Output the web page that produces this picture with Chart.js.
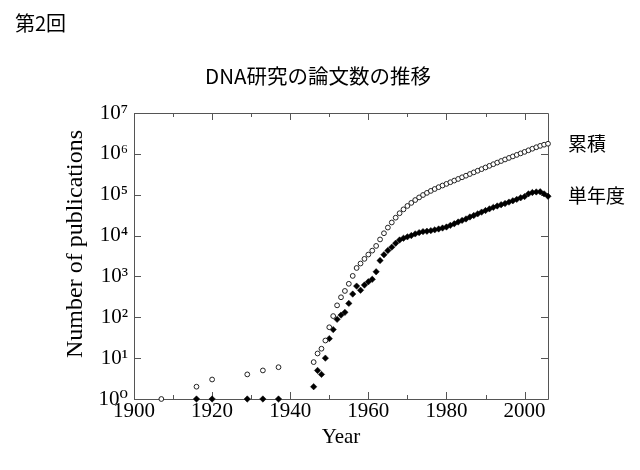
<!DOCTYPE html>
<html>
<head>
<meta charset="utf-8">
<script src="https://cdn.jsdelivr.net/npm/chart.js@4.4.0/dist/chart.umd.min.js"></script>
<style>
html,body{margin:0;padding:0;background:#fff;}
#wrap{width:640px;height:470px;}
</style>
</head>
<body>
<div id="wrap"><canvas id="c" width="640" height="470"></canvas></div>
<script>
// ---- data ----
const pageTitle = '第2回';
const chartTitle = 'DNA研究の論文数の推移';
const xAxisTitle = 'Year';
const yAxisTitle = 'Number of publications';
const seriesNames = ['累積', '単年度'];

const cumulativeYears = [1907,1916,1920,1929,1933,1937,
  1946,1947,1948,1949,1950,1951,1952,1953,1954,1955,1956,1957,1958,1959,
  1960,1961,1962,1963,1964,1965,1966,1967,1968,1969,
  1970,1971,1972,1973,1974,1975,1976,1977,1978,1979,
  1980,1981,1982,1983,1984,1985,1986,1987,1988,1989,
  1990,1991,1992,1993,1994,1995,1996,1997,1998,1999,
  2000,2001,2002,2003,2004,2005,2006];
const cumulativeCounts = [1,2,3,4,5,6,
  8,13,17,27,57,107,196,309,441,660,1030,1610,2070,2690,
  3430,4280,5580,8030,11400,15700,20900,27400,35200,43800,
  53100,63100,74100,85900,98400,111000,124000,138000,153000,168000,
  184000,202000,222000,243000,267000,292000,321000,352000,386000,423000,
  464000,509000,558000,611000,668000,729000,795000,866000,943000,1027000,
  1117000,1222000,1335000,1452000,1570000,1675000,1767000];

const annualYears = [1916,1920,1929,1933,1937,
  1946,1947,1948,1949,1950,1951,1952,1953,1954,1955,1956,1957,1958,1959,
  1960,1961,1962,1963,1964,1965,1966,1967,1968,1969,
  1970,1971,1972,1973,1974,1975,1976,1977,1978,1979,
  1980,1981,1982,1983,1984,1985,1986,1987,1988,1989,
  1990,1991,1992,1993,1994,1995,1996,1997,1998,1999,
  2000,2001,2002,2003,2004,2005,2006];
const annualCounts = [1,1,1,1,1,
  2,5,4,10,30,50,89,113,132,219,370,580,460,615,
  740,850,1300,2450,3400,4300,5200,6500,7800,8600,
  9300,10000,11000,11800,12500,12800,13200,13800,14500,15300,
  16200,17800,19500,21500,23500,25500,28500,31000,34000,37500,
  41000,45000,49000,53000,57000,61000,66000,71000,77000,84000,
  90000,105000,113000,117000,118000,105000,92000];

const xTickYears = [1900,1920,1940,1960,1980,2000];
const xMinorTickYears = [1910,1930,1950,1970,1990];
const yTickValues = [1,10,100,1000,10000,100000,1000000,10000000];
const xRange = [1900, 2006];
const yRange = [1, 10000000];

// ---- helpers ----
const SERIF = "'Liberation Serif','Times New Roman','DejaVu Serif',serif";
const SANS = "'Noto Sans CJK JP','Noto Sans',sans-serif";
const SUP = {'0':'⁰','1':'¹','2':'²','3':'³','4':'⁴','5':'⁵','6':'⁶','7':'⁷','8':'⁸','9':'⁹','-':'⁻'};
function powLabel(v){
  const e = String(Math.round(Math.log10(v)));
  return '10' + e.split('').map(c => SUP[c]).join('');
}
function toPoints(xs, ys){ return xs.map((x,i) => ({x: x, y: ys[i]})); }

const frameColor = '#555';

const framePlugin = {
  id: 'frameTicks',
  beforeDatasetsDraw(chart){
    const {ctx, chartArea: a, scales} = chart;
    const xs = scales.x, ys = scales.y;
    ctx.save();
    ctx.strokeStyle = frameColor;
    ctx.lineWidth = 1;
    ctx.beginPath();
    ctx.rect(Math.round(a.left)+0.5, Math.round(a.top)+0.5,
             Math.round(a.right-a.left), Math.round(a.bottom-a.top));
    ctx.stroke();
    ctx.beginPath();
    const tick = (vals, len) => {
      vals.forEach(v => {
        const px = Math.round(xs.getPixelForValue(v)) + 0.5;
        ctx.moveTo(px, a.bottom); ctx.lineTo(px, a.bottom - len);
        ctx.moveTo(px, a.top); ctx.lineTo(px, a.top + len);
      });
    };
    tick(xTickYears, 7);
    tick(xMinorTickYears, 4);
    yTickValues.forEach(v => {
      const py = Math.round(ys.getPixelForValue(v)) + 0.5;
      ctx.moveTo(a.left, py); ctx.lineTo(a.left + 7, py);
      ctx.moveTo(a.right, py); ctx.lineTo(a.right - 7, py);
    });
    ctx.stroke();
    ctx.restore();
  }
};

const endLabelPlugin = {
  id: 'endLabels',
  afterDatasetsDraw(chart){
    const {ctx, chartArea: a} = chart;
    ctx.save();
    ctx.font = '19px ' + SANS;
    ctx.fillStyle = '#000';
    ctx.textAlign = 'left';
    ctx.textBaseline = 'middle';
    chart.data.datasets.forEach((ds, i) => {
      const meta = chart.getDatasetMeta(i);
      const last = meta.data[meta.data.length - 1];
      if (last) ctx.fillText(ds.label, a.right + 20, last.y);
    });
    ctx.restore();
  }
};

Chart.defaults.color = '#000';
Chart.defaults.font.family = SERIF;

new Chart(document.getElementById('c'), {
  type: 'scatter',
  data: {
    datasets: [
      {
        label: seriesNames[0],
        data: toPoints(cumulativeYears, cumulativeCounts),
        pointStyle: 'circle',
        pointRadius: 2.4,
        pointBorderWidth: 1,
        pointBorderColor: '#222',
        pointBackgroundColor: '#fff',
        clip: false
      },
      {
        label: seriesNames[1],
        data: toPoints(annualYears, annualCounts),
        pointStyle: 'rectRot',
        pointRadius: 3.2,
        pointBorderWidth: 0.5,
        pointBorderColor: '#000',
        pointBackgroundColor: '#000',
        clip: false
      }
    ]
  },
  options: {
    responsive: false,
    devicePixelRatio: 1,
    animation: false,
    events: [],
    layout: { padding: { left: 15, right: 19, top: 0, bottom: 0 } },
    plugins: {
      legend: { display: false },
      tooltip: { enabled: false },
      title: {
        display: true, text: pageTitle, align: 'start', color: '#000',
        font: { family: SANS, size: 20, weight: 'normal' },
        padding: { top: 11, bottom: 0 }
      },
      subtitle: {
        display: true, text: chartTitle, align: 'center', color: '#000',
        font: { family: SANS, size: 20.5, weight: 'normal' },
        padding: { top: 29, bottom: 24.4 }
      }
    },
    scales: {
      x: {
        type: 'linear', position: 'bottom',
        min: xRange[0], max: xRange[1],
        grid: { display: false, drawTicks: false },
        border: { display: false },
        afterBuildTicks: s => { s.ticks = xTickYears.map(v => ({ value: v })); },
        ticks: { font: { family: SERIF, size: 21 }, color: '#000', padding: 0, maxRotation: 0, autoSkip: false, callback: v => String(v) },
        title: { display: true, text: xAxisTitle, color: '#000', font: { family: SERIF, size: 21 }, padding: { top: 0, bottom: 20.4 } },
        afterFit: s => { s.height = 71; }
      },
      y: {
        type: 'logarithmic', position: 'left',
        min: yRange[0], max: yRange[1],
        grid: { display: false, drawTicks: false },
        border: { display: false },
        afterBuildTicks: s => { s.ticks = yTickValues.map(v => ({ value: v })); },
        ticks: { font: { family: SERIF, size: 21 }, color: '#000', padding: 6, autoSkip: false, callback: v => powLabel(v) },
        title: { display: true, text: '    ' + yAxisTitle, color: '#000', font: { family: SERIF, size: 24 }, padding: { top: 46, bottom: 0 } },
        afterFit: s => { s.width = 119; }
      },
      y2: {
        type: 'linear', position: 'right',
        grid: { display: false, drawTicks: false },
        border: { display: false },
        ticks: { display: false },
        afterFit: s => { s.width = 73; }
      }
    }
  },
  plugins: [framePlugin, endLabelPlugin]
});
</script>
</body>
</html>
